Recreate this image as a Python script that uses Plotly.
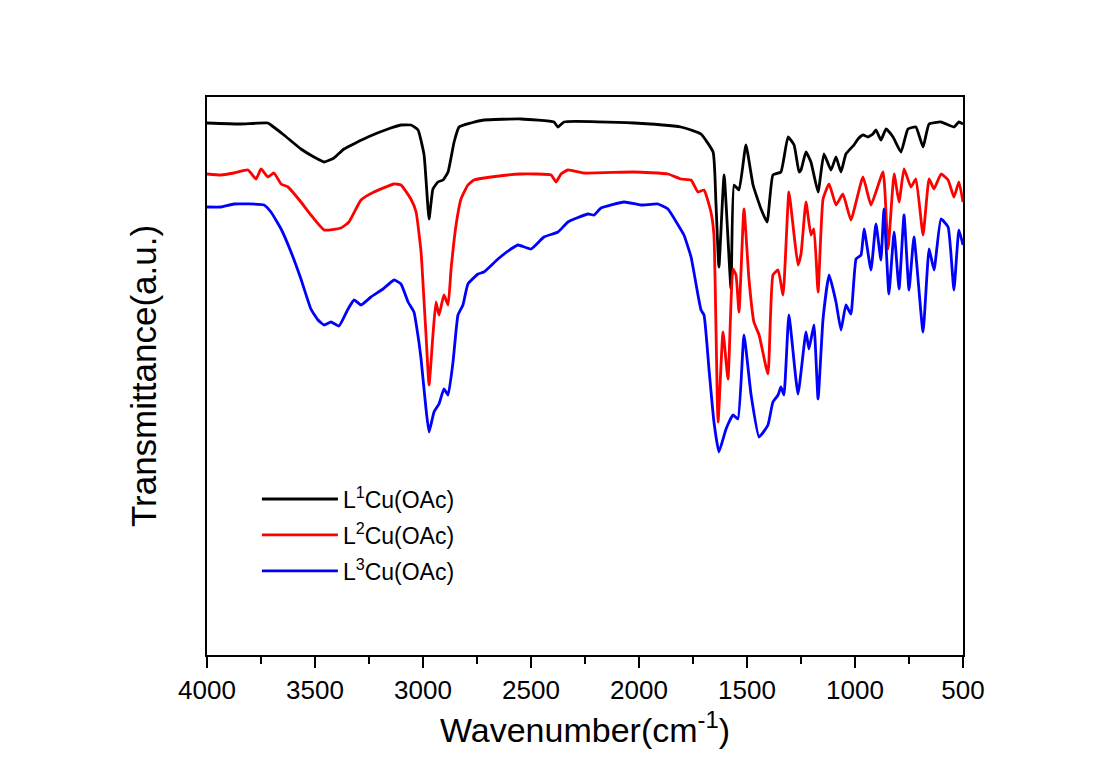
import plotly.graph_objects as go

# ---- data (wavenumber in cm^-1, transmittance in a.u.) ----
wn_L1 = [4000, 3850, 3718, 3704, 3644, 3565, 3505, 3458, 3412, 3366, 3255, 3162, 3102, 3056, 3023,
         2995, 2972, 2954, 2931, 2907, 2884, 2856, 2833, 2778, 2718, 2546, 2394, 2375, 2347, 2023,
         1838, 1806, 1759, 1713, 1657, 1644, 1630, 1606, 1574, 1560, 1537, 1505, 1472, 1435, 1407,
         1380, 1343, 1310, 1282, 1259, 1250, 1227, 1204, 1171, 1144, 1111, 1088, 1065, 1042, 1005,
         986, 963, 940, 917, 903, 880, 856, 824, 787, 755, 718, 685, 657, 602, 542, 519, 500]
T_L1 = [532, 531, 532, 530, 520, 506, 498, 493, 497, 506, 518, 526, 530, 530, 525,
        500, 436, 466, 473, 475, 483, 513, 528, 532, 535, 536, 533, 528, 533, 532,
        529, 528, 525, 521, 503, 453, 388, 480, 366, 470, 465, 510, 470, 446, 433,
        480, 483, 518, 510, 483, 485, 503, 493, 463, 501, 485, 498, 483, 501, 510,
        516, 520, 518, 521, 525, 515, 526, 518, 503, 526, 528, 508, 531, 533, 528, 533, 531]

wn_L2 = [4000, 3935, 3875, 3810, 3773, 3750, 3718, 3690, 3657, 3625, 3565, 3519, 3458, 3380, 3343,
         3287, 3227, 3134, 3102, 3056, 3032, 3009, 2995, 2986, 2972, 2954, 2940, 2926, 2903, 2884,
         2870, 2847, 2824, 2792, 2764, 2685, 2546, 2407, 2384, 2361, 2329, 2255, 2023, 1866, 1806,
         1759, 1727, 1699, 1667, 1653, 1634, 1611, 1588, 1565, 1551, 1537, 1514, 1491, 1468, 1444,
         1403, 1380, 1356, 1333, 1306, 1282, 1264, 1250, 1227, 1204, 1190, 1171, 1148, 1120, 1088,
         1056, 1019, 963, 926, 870, 847, 819, 796, 773, 741, 718, 685, 657, 634, 602, 569, 542,
         519, 500]
T_L2 = [481, 480, 482, 485, 476, 486, 478, 482, 471, 468, 453, 440, 425, 427, 433,
        455, 463, 471, 470, 456, 443, 403, 353, 320, 270, 320, 353, 340, 360, 350,
        386, 430, 456, 470, 475, 478, 481, 480, 473, 481, 485, 482, 483, 481, 476,
        475, 463, 465, 443, 420, 233, 323, 276, 386, 380, 343, 446, 376, 333, 320,
        281, 380, 385, 360, 463, 420, 390, 401, 453, 420, 426, 363, 456, 471, 450,
        461, 435, 478, 450, 483, 406, 481, 453, 486, 468, 476, 420, 476, 466, 481, 475, 458,
        473, 453]

wn_L3 = [4000, 3935, 3875, 3736, 3704, 3657, 3611, 3565, 3519, 3486, 3458, 3426, 3389, 3347, 3319,
         3287, 3241, 3185, 3134, 3102, 3069, 3042, 3019, 3009, 2986, 2972, 2949, 2926, 2903, 2884,
         2861, 2838, 2815, 2792, 2745, 2718, 2653, 2593, 2560, 2500, 2440, 2375, 2329, 2236, 2208,
         2176, 2069, 1991, 1912, 1866, 1819, 1792, 1759, 1727, 1713, 1699, 1676, 1653, 1630, 1597,
         1565, 1542, 1514, 1481, 1444, 1403, 1380, 1356, 1343, 1329, 1306, 1264, 1227, 1213, 1190,
         1171, 1148, 1120, 1088, 1065, 1042, 1019, 995, 972, 958, 926, 903, 880, 866, 843,
         819, 796, 773, 750, 727, 685, 657, 634, 602, 569, 542, 519, 500]
T_L3 = [448, 448, 451, 450, 443, 426, 403, 376, 346, 335, 330, 333, 329, 346, 355,
        350, 358, 366, 375, 371, 353, 343, 313, 296, 246, 223, 243, 251, 266, 260,
        293, 340, 350, 371, 381, 383, 396, 406, 410, 406, 418, 423, 433, 441, 440,
        447, 453, 450, 451, 446, 430, 420, 398, 360, 345, 340, 286, 233, 203, 226,
        240, 236, 320, 260, 218, 230, 253, 260, 268, 260, 340, 261, 323, 306, 330,
        256, 336, 380, 353, 325, 350, 341, 396, 400, 426, 385, 431, 395, 446, 361,
        423, 366, 440, 365, 418, 323, 406, 385, 436, 428, 365, 425, 410]

names = ["L<sup>1</sup>Cu(OAc)", "L<sup>2</sup>Cu(OAc)", "L<sup>3</sup>Cu(OAc)"]
colors = ["#000000", "#ff0000", "#0000ff"]

x_ticks = [4000, 3500, 3000, 2500, 2000, 1500, 1000, 500]

fig = go.Figure()
for i, (wx, ty) in enumerate([(wn_L1, T_L1), (wn_L2, T_L2), (wn_L3, T_L3)]):
    fig.add_trace(go.Scatter(x=wx, y=ty, mode="lines", name=names[i],
                             line=dict(color=colors[i], width=2.8, shape="spline", smoothing=0.4),
                             legendgroup=f"g{i}"))

font_family = "Arial, Liberation Sans, sans-serif"

fig.update_layout(
    width=1101, height=774,
    margin=dict(l=199, r=146, t=89, b=127),
    paper_bgcolor="white", plot_bgcolor="white",
    font=dict(family=font_family, color="black"),
    showlegend=True,
    legend=dict(x=0.066, y=0.318, xanchor="left", yanchor="top",
                font=dict(size=23, family=font_family), bgcolor="rgba(0,0,0,0)",
                itemwidth=76, tracegroupgap=3),
    xaxis=dict(range=[4000, 500], tickvals=x_ticks, ticktext=[str(v) for v in x_ticks],
               ticks="outside", ticklen=11, tickwidth=2, tickcolor="black",
               minor=dict(dtick=250, tick0=500, ticks="outside", ticklen=7, tickwidth=2, tickcolor="black"),
               showline=True, linewidth=2, linecolor="black", mirror=True,
               showgrid=False, zeroline=False,
               tickfont=dict(size=26, family=font_family),
               title=dict(text="Wavenumber(cm<sup>-1</sup>)", font=dict(size=34, family=font_family), standoff=14)),
    yaxis=dict(range=[0, 558], showticklabels=False, ticks="",
               showline=True, linewidth=2, linecolor="black", mirror=True,
               showgrid=False, zeroline=False,
               title=dict(text="Transmittance(a.u.)", font=dict(size=35, family=font_family), standoff=38)),
)

fig.write_html("out.html")
